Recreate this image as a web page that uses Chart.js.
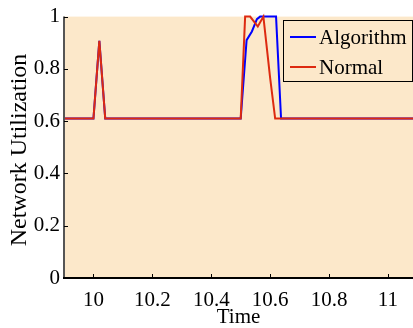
<!DOCTYPE html>
<html>
<head>
<meta charset="utf-8">
<script src="https://cdn.jsdelivr.net/npm/chart.js@4"></script>
<style>
html,body{margin:0;padding:0;background:#fff;}
#wrap{width:413px;height:328px;position:relative;}
</style>
</head>
<body>
<div id="wrap"><canvas id="c" width="413" height="328"></canvas></div>
<script>
const seriesNames = ["Algorithm", "Normal"];
const algorithmTime = [9.9, 10.0, 10.02, 10.04, 10.5, 10.52, 10.538, 10.555, 10.566, 10.62, 10.637, 11.085];
const algorithmUtil = [0.61, 0.61, 0.907, 0.61, 0.61, 0.91, 0.943, 0.99, 1.0, 1.0, 0.61, 0.61];
const normalTime = [9.9, 10.0, 10.02, 10.04, 10.5, 10.515, 10.532, 10.558, 10.577, 10.6, 10.617, 11.085];
const normalUtil = [0.61, 0.61, 0.907, 0.61, 0.61, 1.0, 1.0, 0.962, 1.0, 0.765, 0.61, 0.61];
const xTicks = [10, 10.2, 10.4, 10.6, 10.8, 11];
const yTicks = [0, 0.2, 0.4, 0.6, 0.8, 1];
const xTitle = 'Time';
const yTitle = 'Network Utilization';

const BG = '#fce8ca';
const FONT = '"Liberation Serif", "Times New Roman", serif';

const pts = (t, v) => t.map((x, i) => ({x: x, y: v[i]}));

const bgPlugin = {
  id: 'bg',
  beforeDraw(chart) {
    const {ctx, chartArea: a} = chart;
    ctx.save();
    ctx.fillStyle = BG;
    ctx.fillRect(a.left, a.top, a.right - a.left, a.bottom - a.top);
    ctx.restore();
  },
  afterDatasetsDraw(chart) {
    const {ctx, chartArea: a, scales} = chart;
    ctx.save();
    // axes lines
    ctx.strokeStyle = '#555';
    ctx.lineWidth = 2;
    ctx.beginPath();
    ctx.moveTo(a.left, a.top); ctx.lineTo(a.left, a.bottom);
    ctx.stroke();
    ctx.strokeStyle = '#000';
    ctx.lineWidth = 2;
    ctx.beginPath();
    ctx.moveTo(a.left - 1, a.bottom); ctx.lineTo(a.right, a.bottom);
    ctx.stroke();
    // inward ticks
    ctx.lineWidth = 1;
    ctx.strokeStyle = '#000';
    xTicks.forEach(t => {
      const px = Math.round(scales.x.getPixelForValue(t)) + 0.5;
      ctx.beginPath(); ctx.moveTo(px, a.bottom); ctx.lineTo(px, a.bottom - 4); ctx.stroke();
    });
    yTicks.forEach(t => {
      const py = Math.round(scales.y.getPixelForValue(t)) + 0.5;
      ctx.beginPath(); ctx.moveTo(a.left, py); ctx.lineTo(a.left + 4, py); ctx.stroke();
    });
    // y title
    ctx.save();
    ctx.translate(25.5, 150);
    ctx.rotate(-Math.PI / 2);
    ctx.fillStyle = '#000';
    ctx.font = '24px ' + FONT;
    ctx.textAlign = 'center';
    ctx.textBaseline = 'alphabetic';
    ctx.fillText(yTitle, 0, 0);
    ctx.restore();
    // legend
    const lx = 283.5, ly = 20.5, lw = 129, lh = 61;
    ctx.fillStyle = BG;
    ctx.fillRect(lx, ly, lw, lh);
    ctx.strokeStyle = '#000';
    ctx.lineWidth = 1;
    ctx.strokeRect(lx, ly, lw, lh);
    const ds = chart.data.datasets;
    const rows = [37, 67];
    ds.forEach((d, i) => {
      ctx.strokeStyle = d.borderColor;
      ctx.lineWidth = 2;
      ctx.beginPath(); ctx.moveTo(290, rows[i]); ctx.lineTo(316, rows[i]); ctx.stroke();
      ctx.fillStyle = '#000';
      ctx.font = '21px ' + FONT;
      ctx.textBaseline = 'middle';
      ctx.textAlign = 'left';
      ctx.fillText(d.label, 319, rows[i] + 1);
    });
    ctx.restore();
  }
};

new Chart(document.getElementById('c'), {
  type: 'line',
  data: {
    datasets: [
      {label: seriesNames[0], data: pts(algorithmTime, algorithmUtil), borderColor: '#0000ff', borderWidth: 2, pointRadius: 0, tension: 0, clip: false, order: 2},
      {label: seriesNames[1], data: pts(normalTime, normalUtil), borderColor: '#dd2a10', borderWidth: 2, pointRadius: 0, tension: 0, clip: false, order: 1}
    ]
  },
  options: {
    responsive: false,
    animation: false,
    layout: {padding: {top: 15, right: 0, bottom: 0, left: 0}},
    plugins: {legend: {display: false}, tooltip: {enabled: false}},
    scales: {
      x: {
        type: 'linear', min: 9.9, max: 11.085,
        afterBuildTicks(s) { s.ticks = xTicks.map(v => ({value: v})); },
        afterFit(s) { s.height = 50; },
        grid: {display: false, drawTicks: false},
        border: {display: false},
        ticks: {color: '#000', font: {family: FONT, size: 21}, padding: 10, maxRotation: 0, autoSkip: false,
          callback: v => String(v)},
        title: {display: true, text: xTitle, color: '#000', font: {family: FONT, size: 21, lineHeight: 1}, padding: 0}
      },
      y: {
        min: 0, max: 1,
        afterBuildTicks(s) { s.ticks = yTicks.map(v => ({value: v})); },
        afterFit(s) { s.width = 64; },
        grid: {display: false, drawTicks: false},
        border: {display: false},
        ticks: {color: '#000', font: {family: FONT, size: 21}, padding: 4, autoSkip: false,
          callback: v => String(v)},
        title: {display: false}
      }
    }
  },
  plugins: [bgPlugin]
});
</script>
</body>
</html>
